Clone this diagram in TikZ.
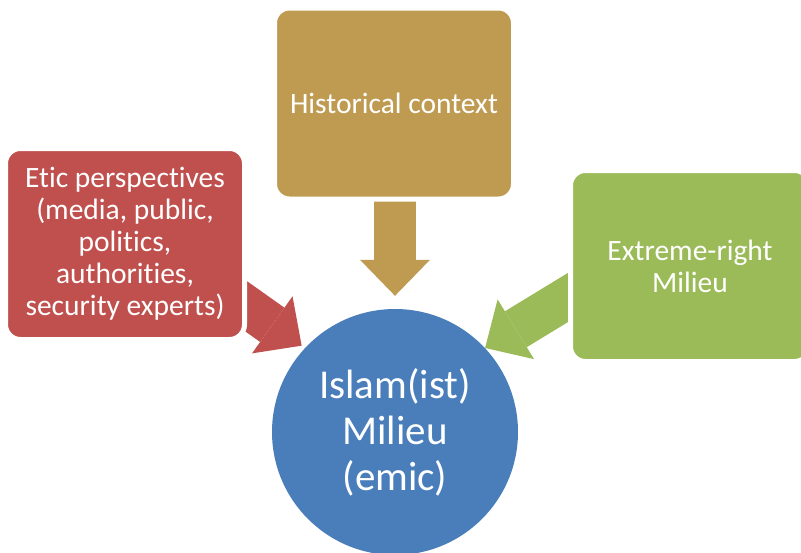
\documentclass[tikz,border=0pt]{standalone}
\usepackage{fontspec}
\setmainfont[Ligatures=NoCommon]{Carlito}
\usepackage{tikz}
\usetikzlibrary{arrows.meta,positioning}

\definecolor{eticred}{HTML}{C0504D}
\definecolor{histgold}{HTML}{BF9B52}
\definecolor{rightgreen}{HTML}{9BBB59}
\definecolor{hubblue}{HTML}{4A7EBB}

\tikzset{
	box/.style={draw=white, line width=5pt, rounded corners=15pt, minimum width=239pt, minimum height=191pt,
		inner sep=0pt, text=white, align=center, font=\fontsize{29.5}{32}\selectfont},
	hubnode/.style={circle, fill=hubblue, minimum size=246pt, inner sep=0pt, text=white, align=center,
		font=\fontsize{41}{46}\selectfont},
	blockarrow/.style={draw=#1, line width=42pt, -{Triangle[length=36pt,width=70pt,line width=0pt]}}
}

\begin{document}
\begin{tikzpicture}[x=1pt,y=-1pt]
		\useasboundingbox (0,0) rectangle (801,552);

		\draw (395,432) node[hubnode] (hub) {Islam(ist)\\Milieu\\(emic)};

		\coordinate (etic-tail) at (195,270);
		\coordinate (hist-tail) at (395,150);
		\coordinate (right-tail) at (595,281);

		\path
			(etic-tail)  edge [blockarrow=eticred, shorten >=4pt]    (hub.137.5)
			(hist-tail)  edge [blockarrow=histgold, shorten >=13pt]  (hub.north)
			(right-tail) edge [blockarrow=rightgreen]                (hub.43);

		\draw (125,244) node[box, fill=eticred] (etic) {Etic perspectives\\(media, public,\\politics,\\authorities,\\security experts)};
		\draw (394,103.5) node[box, fill=histgold] (hist) {Historical context};
		\draw (690,266) node[box, fill=rightgreen] (right) {Extreme-right\\Milieu};
\end{tikzpicture}
\end{document}
